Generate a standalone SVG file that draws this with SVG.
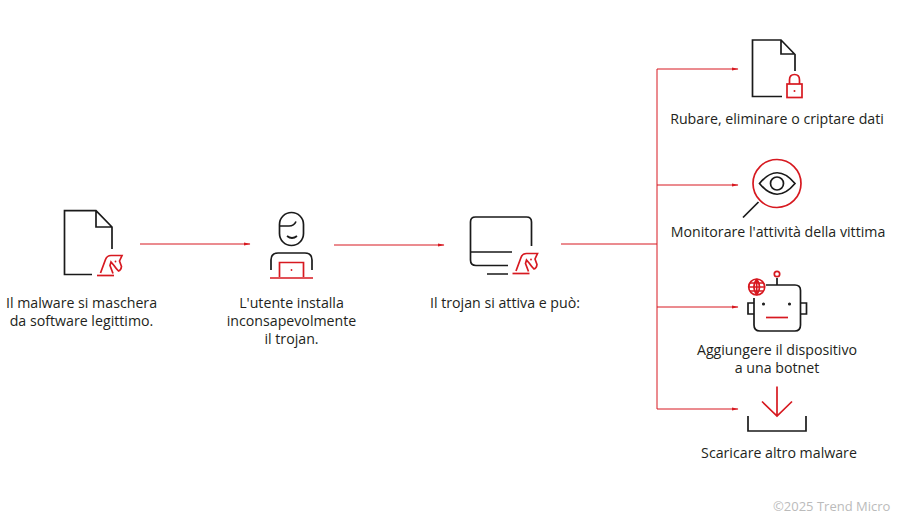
<svg xmlns="http://www.w3.org/2000/svg" width="900" height="529" viewBox="0 0 900 529">
<style>
.k{fill:none;stroke:#1a1a1a;stroke-width:1.7}
.r{fill:none;stroke:#d71920;stroke-width:1.7}
.c{fill:none;stroke:#d71920;stroke-width:1}
.a{fill:#d71920}
text{font-family:"Open Sans","Noto Sans",sans-serif;font-size:14.2px;fill:#231f20;text-anchor:middle}
.w{font-size:13px;fill:#bbbbbb;text-anchor:start}
</style>
<defs>
<g id="horse"><path class="r" d="M3.500 18.500L8.500 5Q10 1 14 1H25L22.500 6.500L24.500 12Q24 16 21.500 16.500Q19 14 17 11L14 7.500L13 11L16 19"/><path class="r" d="M0 21H17"/><circle class="a" cx="18.500" cy="7" r=".9"/></g>
<marker id="ah" markerWidth="7" markerHeight="5" refX="6.500" refY="2.500" orient="auto" markerUnits="userSpaceOnUse"><path class="a" d="M0 .8L7 2.500L0 4.200Z"/></marker>
</defs>
<g id="connectors">
<path class="c" marker-end="url(#ah)" d="M140 244H250"/>
<path class="c" marker-end="url(#ah)" d="M334 245H444"/>
<path class="c" d="M561 244H657"/>
<path class="c" marker-end="url(#ah)" d="M657 409V69H738"/>
<path class="c" marker-end="url(#ah)" d="M657 185H738"/>
<path class="c" marker-end="url(#ah)" d="M657 307H738"/>
<path class="c" marker-end="url(#ah)" d="M657 409H738"/>
</g>
<g id="node-malware">
<path class="k" d="M92 274.500H64.500V210.700H96L112 227V249M96 210.700V227H112"/>
<use href="#horse" x="97" y="254.500"/>
<text x="81.500" y="308">Il malware si maschera<tspan x="81.500" dy="18">da software legittimo.</tspan></text>
</g>
<g id="node-utente">
<rect class="k" x="279.500" y="212.500" width="24" height="33" rx="12" ry="12"/>
<path class="k" d="M279.500 226H289Q294 226 296 221.500"/>
<path class="k" d="M287 236Q292 240 297 236"/>
<path class="k" d="M271 270V260Q271 253 278 253H305Q312 253 312 260V270"/>
<path class="r" d="M279.500 277V262.500H303.500V277M270 278H313"/>
<circle class="a" cx="291.500" cy="270" r=".9"/>
<text x="291.500" y="308">L'utente installa<tspan x="291.500" dy="18">inconsapevolmente</tspan><tspan x="291.500" dy="18">il trojan.</tspan></text>
</g>
<g id="node-trojan">
<path class="k" d="M531.500 246V222Q531.500 217 526.500 217H475.500Q470.500 217 470.500 222V260Q470.500 265.500 476 265.500H508M470.500 252H512M487 274H508"/>
<use href="#horse" x="512.500" y="252.500"/>
<text x="505" y="308">Il trojan si attiva e può:</text>
</g>
<g id="node-dati">
<path class="k" d="M782 96.500H752.500V40H781L795 54.500V71M781 40V54H795"/>
<rect class="r" x="787" y="84" width="15" height="13.500"/>
<path class="r" d="M789.500 84V80Q789.500 74.500 794.500 74.500Q799.500 74.500 799.500 80V84"/>
<circle class="a" cx="794.500" cy="91" r="1"/>
<text x="777" y="124">Rubare, eliminare o criptare dati</text>
</g>
<g id="node-monitor">
<circle class="r" cx="777" cy="183.500" r="24"/>
<path class="k" d="M759.500 183.500Q777 162 795 183.500Q777 205 759.500 183.500Z"/>
<circle class="k" cx="777" cy="183.500" r="6.500"/>
<path class="k" d="M758.500 202L743 217.500"/>
<text x="778" y="237">Monitorare l'attività della vittima</text>
</g>
<g id="node-botnet">
<path class="k" d="M766 285H795Q800.500 285 800.500 290.500V325Q800.500 331 795 331H760Q754 331 754 325V298"/>
<path class="k" d="M754 303H748V314H754M800.500 303H806.500V314H800.500M777 285V278"/>
<circle class="r" cx="777" cy="274" r="2.700"/>
<circle class="k" cx="763.500" cy="304" r=".7"/>
<circle class="k" cx="789.500" cy="304" r=".7"/>
<path class="r" d="M766 317.500H788"/>
<circle class="r" cx="756.700" cy="287" r="8"/>
<path class="r" d="M748.700 287H764.700M749.700 283H763.700M749.700 291H763.700M756.700 279V295M756.700 279Q751 287 756.700 295M756.700 279Q762.400 287 756.700 295"/>
<text x="777" y="355">Aggiungere il dispositivo<tspan x="777" dy="18">a una botnet</tspan></text>
</g>
<g id="node-scaricare">
<path class="r" d="M777 386.500V416M762 401.500L777 416L792 401.500"/>
<path class="k" d="M748 416V431H806V416"/>
<text x="779" y="458">Scaricare altro malware</text>
</g>
<text class="w" x="773" y="511">©2025 Trend Micro</text>
</svg>
